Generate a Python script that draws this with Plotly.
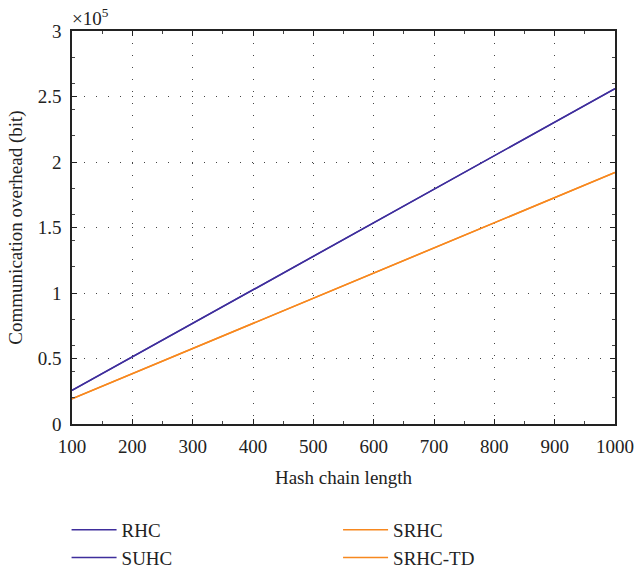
import plotly.graph_objects as go

lengths = [100, 200, 300, 400, 500, 600, 700, 800, 900, 1000]
rhc = [25600, 51200, 76800, 102400, 128000, 153600, 179200, 204800, 230400, 256000]
suhc = [25600, 51200, 76800, 102400, 128000, 153600, 179200, 204800, 230400, 256000]
srhc = [19200, 38400, 57600, 76800, 96000, 115200, 134400, 153600, 172800, 192000]
srhc_td = [19200, 38400, 57600, 76800, 96000, 115200, 134400, 153600, 172800, 192000]

y_ticks = [0, 50000, 100000, 150000, 200000, 250000, 300000]
y_tick_text = ["0", "0.5", "1", "1.5", "2", "2.5", "3"]

BLUE = "#3F2E9C"
ORANGE = "#F7881F"
FONT = "Liberation Serif"

fig = go.Figure()
fig.add_trace(go.Scatter(x=lengths, y=rhc, mode="lines", name="RHC",
                         line=dict(color=BLUE, width=1.5), legend="legend"))
fig.add_trace(go.Scatter(x=lengths, y=suhc, mode="lines", name="SUHC",
                         line=dict(color=BLUE, width=1.5), legend="legend"))
fig.add_trace(go.Scatter(x=lengths, y=srhc, mode="lines", name="SRHC",
                         line=dict(color=ORANGE, width=1.5), legend="legend2"))
fig.add_trace(go.Scatter(x=lengths, y=srhc_td, mode="lines", name="SRHC-TD",
                         line=dict(color=ORANGE, width=1.5), legend="legend2"))

axis_common = dict(
    automargin=False,
    showline=True, linecolor="#222222", linewidth=1.5, mirror="allticks",
    ticks="inside", ticklen=5, tickcolor="#222222", tickwidth=1.2,
    showgrid=True, gridcolor="#444444", gridwidth=1, griddash="1px,11px",
    zeroline=False,
    tickfont=dict(family=FONT, size=19, color="#222222"),
    minor=dict(ticks="inside", ticklen=3, tickcolor="#444444", showgrid=False),
)

legend_common = dict(xanchor="left", yanchor="top", orientation="v", yref="container",
                     font=dict(family=FONT, size=19, color="#222222"),
                     bgcolor="rgba(0,0,0,0)", tracegroupgap=0, itemwidth=45)

fig.update_layout(
    width=635, height=569,
    margin=dict(l=72, r=20, t=31, b=145, autoexpand=False),
    paper_bgcolor="white", plot_bgcolor="white",
    font=dict(family=FONT, size=18, color="#222222"),
    xaxis=dict(range=[100, 1000], tickvals=lengths, ticklabelstandoff=4, **axis_common,
               title=dict(text="Hash chain length", font=dict(family=FONT, size=19), standoff=15)),
    yaxis=dict(range=[0, 300000], tickvals=y_ticks, ticktext=y_tick_text, ticklabelstandoff=5,
               **axis_common,
               title=dict(text="Communication overhead (bit)", font=dict(family=FONT, size=19), standoff=10)),
    legend=dict(x=-0.01, y=(569 - 511) / 569, **legend_common),
    legend2=dict(x=0.49, y=(569 - 511) / 569, **legend_common),
    showlegend=True,
    annotations=[dict(text="×10<sup>5</sup>", xref="paper", yref="paper", x=-0.003, y=1.0,
                      xanchor="left", yanchor="bottom", showarrow=False,
                      font=dict(family=FONT, size=19, color="#222222"))],
)

fig.write_html("out.html")
